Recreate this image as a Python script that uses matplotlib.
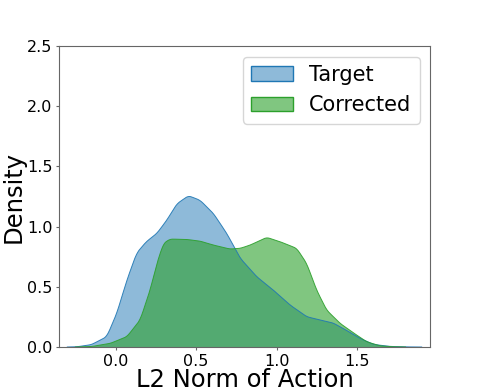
import numpy as np
import matplotlib.pyplot as plt
from matplotlib.patches import Patch

# density curves (KDE of L2 norm of action)
targetX = [-0.30, -0.24, -0.15, -0.055, 0.007, 0.07, 0.13, 0.19, 0.256, 0.318, 0.38, 0.452,
           0.524, 0.607, 0.69, 0.774, 0.876, 0.979, 1.083, 1.186, 1.27, 1.35, 1.43,
           1.517, 1.60, 1.70, 1.80, 1.90]
targetY = [0.0, 0.002, 0.02, 0.086, 0.28, 0.556, 0.78, 0.875, 0.944, 1.055, 1.19, 1.257,
           1.22, 1.11, 0.944, 0.737, 0.584, 0.473, 0.349, 0.252, 0.224, 0.20, 0.141,
           0.072, 0.022, 0.005, 0.001, 0.0]

correctedX = [-0.25, -0.15, -0.034, 0.07, 0.152, 0.214, 0.256, 0.297, 0.338, 0.44, 0.524,
              0.607, 0.71, 0.774, 0.835, 0.938, 1.021, 1.124, 1.186, 1.248, 1.31, 1.393,
              1.475, 1.558, 1.64, 1.72, 1.80]
correctedY = [0.0, 0.004, 0.03, 0.086, 0.224, 0.473, 0.695, 0.861, 0.897, 0.894, 0.88,
              0.847, 0.814, 0.82, 0.847, 0.911, 0.875, 0.82, 0.695, 0.473, 0.307, 0.197,
              0.119, 0.044, 0.01, 0.002, 0.0]

labels = ['Target', 'Corrected']
colors = ['tab:blue', 'tab:green']
alphas = [0.5, 0.6]

fig = plt.figure(figsize=(4.78, 3.91), dpi=100)
ax = fig.add_axes([0.124, 0.1125, 0.776, 0.7695])

# smooth the read points a little with a fine grid
for xs, ys, c, a in [(targetX, targetY, colors[0], alphas[0]),
                     (correctedX, correctedY, colors[1], alphas[1])]:
    grid = np.linspace(xs[0], xs[-1], 400)
    dens = np.interp(grid, xs, ys)
    k = np.ones(7) / 7
    dens = np.convolve(np.pad(dens, 3, mode='edge'), k, mode='valid')
    ax.fill_between(grid, dens, 0, facecolor=c, edgecolor='none', alpha=a)
    ax.plot(grid, dens, color=c, linewidth=0.7, alpha=0.9)

ax.set_xlim(-0.35, 1.953)
ax.set_ylim(0, 2.5)
ax.set_xticks([0.0, 0.5, 1.0, 1.5])
ax.set_yticks([0.0, 0.5, 1.0, 1.5, 2.0, 2.5])
ax.tick_params(labelsize=11.5, length=2, color='0.4', pad=3)
for s in ax.spines.values():
    s.set_color('0.4')

ax.set_xlabel('L2 Norm of Action', fontsize=17.5, labelpad=-1)
ax.set_ylabel('Density', fontsize=17.5, labelpad=1)

handles = [Patch(facecolor=(*plt.matplotlib.colors.to_rgb(c), a), edgecolor=c)
           for c, a in zip(colors, alphas)]
ax.legend(handles, labels, loc='upper right', fontsize=15)

plt.savefig('out.png')
